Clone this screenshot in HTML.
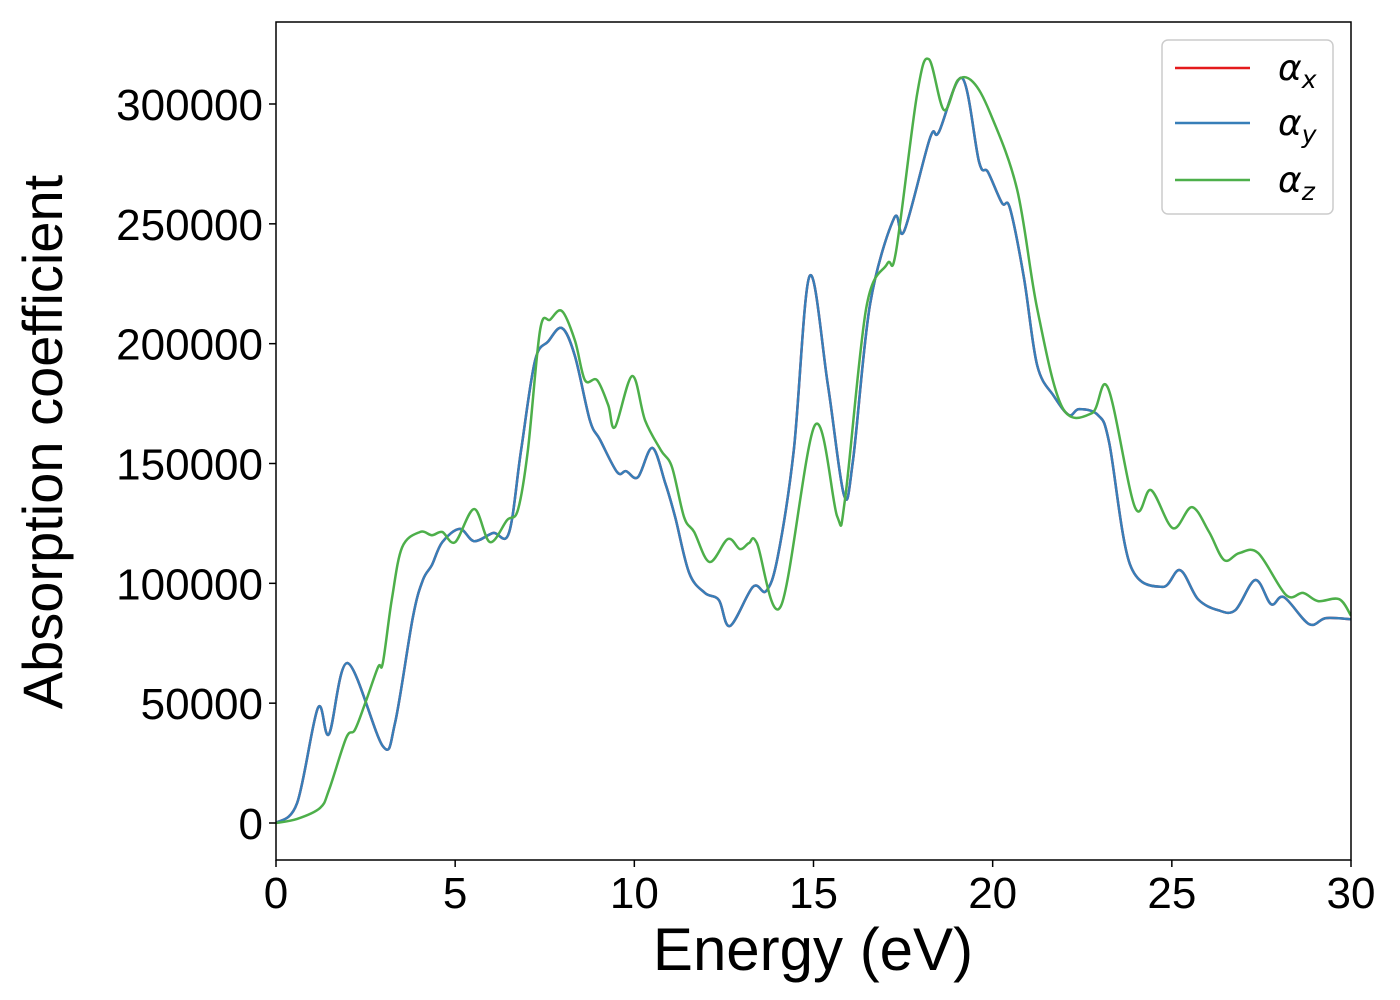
<!DOCTYPE html>
<html><head><meta charset="utf-8"><style>
body{margin:0;background:#fff;}
svg{display:block;font-family:"Liberation Sans","DejaVu Sans",sans-serif;}
</style></head><body>
<svg id="chart" width="1400" height="1000" viewBox="0 0 1400 1000" xmlns="http://www.w3.org/2000/svg">
<rect x="0" y="0" width="1400" height="1000" fill="#fff"/>
<g id="plot"></g>
<g id="axes"></g>
<text x="813" y="970" font-size="60" text-anchor="middle">Energy (eV)</text>
<text transform="translate(62,442) rotate(-90)" font-size="56" text-anchor="middle">Absorption coefficient</text>
<g>
<rect x="1162" y="40" width="171" height="174" rx="6" fill="#fff" fill-opacity="0.8" stroke="#ccc" stroke-width="1.5"/>
<g><line x1="1175" y1="68" x2="1250" y2="68" stroke="#e41a1c" stroke-width="2.5"/><text x="1278" y="80" font-size="36" font-style="italic" font-family="DejaVu Sans, sans-serif">α<tspan font-size="25" dy="8">x</tspan></text></g>
<g><line x1="1175" y1="123" x2="1250" y2="123" stroke="#377eb8" stroke-width="2.5"/><text x="1278" y="135" font-size="36" font-style="italic" font-family="DejaVu Sans, sans-serif">α<tspan font-size="25" dy="8">y</tspan></text></g>
<g><line x1="1175" y1="180" x2="1250" y2="180" stroke="#4daf4a" stroke-width="2.5"/><text x="1278" y="192" font-size="36" font-style="italic" font-family="DejaVu Sans, sans-serif">α<tspan font-size="25" dy="8">z</tspan></text></g>
</g>
</svg>
<script>
const xyEnergy = [0,0.59,1.17,1.48,2.0,2.98,3.32,3.82,4.1,4.35,4.64,5.13,5.53,6.06,6.5,6.84,7.23,7.6,7.98,8.34,8.76,9.04,9.52,9.77,10.1,10.5,10.86,11.14,11.53,11.97,12.36,12.67,13.31,13.68,14.0,14.45,14.89,15.4,15.85,16.1,16.58,17.25,17.53,18.25,18.5,19.15,19.62,19.87,20.26,20.48,20.87,21.24,21.71,22.13,22.41,22.94,23.25,23.83,24.73,25.23,25.73,26.29,26.77,27.33,27.77,28.13,28.83,29.3,30];
const xyValues = [0,8300,48000,37100,66700,32100,41700,85900,101400,107600,117200,122700,117600,121000,121000,155600,193000,201000,206500,195000,168000,160000,146400,146800,144300,156500,142000,127600,104300,96000,93000,82200,98500,96800,111000,155600,228200,183000,136800,151000,216500,252400,247000,285800,288300,310800,275800,271600,258700,256600,227800,191100,178100,170200,172700,170200,158900,108000,98500,105500,93400,88800,88800,101400,91300,94200,83000,85500,85000];
const zEnergy = [0,0.59,1.23,1.48,1.96,2.2,2.49,2.85,2.98,3.23,3.52,4.02,4.35,4.64,5.0,5.53,5.97,6.45,6.75,7.03,7.37,7.65,7.98,8.34,8.62,8.96,9.27,9.46,9.94,10.3,10.74,11.05,11.39,11.67,12.1,12.61,12.95,13.2,13.42,14.09,15.04,15.66,15.88,16.47,17.05,17.3,17.89,18.22,18.64,19.03,19.45,19.93,20.68,21.24,21.94,22.77,23.22,23.97,24.42,25.03,25.56,26.04,26.46,26.88,27.41,28.19,28.66,29.08,29.67,30];
const zValues = [0,1700,6300,13800,35500,38800,50000,65100,66700,93000,115000,121400,120100,121400,117200,131000,117200,126400,130600,155600,205700,210000,213600,201500,184800,184800,174400,165200,186500,168000,155600,148500,127600,121400,108900,118500,114300,116800,116800,90500,166000,128000,135000,214800,233200,238200,304100,318700,297500,310000,309200,296200,264500,214800,173500,171000,181500,131800,138900,123000,131800,121400,109700,112600,112600,95100,96000,92600,93400,86500];
const xTicks = [0,5,10,15,20,25,30];
const yTicks = [0,50000,100000,150000,200000,250000,300000];

const X0=276, X1=1351, Y0=22, Y1=860;
const xScale = e => X0 + (e-0)/(30-0)*(X1-X0);
const yScale = v => 823 - v*(823-104)/300000;
const NS='http://www.w3.org/2000/svg';
function pathFor(es, vs){
  const p = es.map((e,i)=>[xScale(e), yScale(vs[i])]);
  let d = 'M'+p[0][0].toFixed(1)+','+p[0][1].toFixed(1);
  for(let i=0;i<p.length-1;i++){
    const a=p[Math.max(0,i-1)], b=p[i], c=p[i+1], n=p[Math.min(p.length-1,i+2)];
    const c1=[b[0]+(c[0]-a[0])/6, b[1]+(c[1]-a[1])/6];
    const c2=[c[0]-(n[0]-b[0])/6, c[1]-(n[1]-b[1])/6];
    d+=' C'+c1[0].toFixed(1)+','+c1[1].toFixed(1)+' '+c2[0].toFixed(1)+','+c2[1].toFixed(1)+' '+c[0].toFixed(1)+','+c[1].toFixed(1);
  }
  return d;
}
const plot=document.getElementById('plot');
const clip=document.createElementNS(NS,'clipPath'); clip.setAttribute('id','clip');
const cr=document.createElementNS(NS,'rect'); cr.setAttribute('x',X0); cr.setAttribute('y',Y0); cr.setAttribute('width',X1-X0); cr.setAttribute('height',Y1-Y0);
clip.appendChild(cr); plot.appendChild(clip);
const series=[['series-alpha-x',xyEnergy,xyValues,'#e41a1c'],['series-alpha-y',xyEnergy,xyValues,'#377eb8'],['series-alpha-z',zEnergy,zValues,'#4daf4a']];
for(const s of series){
  const el=document.createElementNS(NS,'path');
  el.setAttribute('d',pathFor(s[1],s[2]));
  el.setAttribute('fill','none'); el.setAttribute('stroke',s[3]); el.setAttribute('stroke-width','2.5');
  el.setAttribute('clip-path','url(#clip)');
  
  
  plot.appendChild(el);
}
const axes=document.getElementById('axes');
const frame=document.createElementNS(NS,'rect');
frame.setAttribute('x',X0); frame.setAttribute('y',Y0); frame.setAttribute('width',X1-X0); frame.setAttribute('height',Y1-Y0);
frame.setAttribute('fill','none'); frame.setAttribute('stroke','#000'); frame.setAttribute('stroke-width','1.5');


axes.appendChild(frame);
for(const t of xTicks){
  const x=xScale(t);
  const l=document.createElementNS(NS,'line');
  l.setAttribute('x1',x); l.setAttribute('x2',x); l.setAttribute('y1',Y1); l.setAttribute('y2',Y1+7); l.setAttribute('stroke','#000'); l.setAttribute('stroke-width','1.5');
  
  
  axes.appendChild(l);
  const tx=document.createElementNS(NS,'text');
  tx.setAttribute('x',x); tx.setAttribute('y',908); tx.setAttribute('font-size','44'); tx.setAttribute('text-anchor','middle');
  tx.textContent=t;
  
  
  axes.appendChild(tx);
}
for(const t of yTicks){
  const y=yScale(t);
  const l=document.createElementNS(NS,'line');
  l.setAttribute('x1',X0-7); l.setAttribute('x2',X0); l.setAttribute('y1',y); l.setAttribute('y2',y); l.setAttribute('stroke','#000'); l.setAttribute('stroke-width','1.5');
  
  
  axes.appendChild(l);
  const tx=document.createElementNS(NS,'text');
  tx.setAttribute('x',263); tx.setAttribute('y',y+16); tx.setAttribute('font-size','44'); tx.setAttribute('text-anchor','end');
  tx.textContent=t;
  
  
  axes.appendChild(tx);
}
</script>
</body></html>
